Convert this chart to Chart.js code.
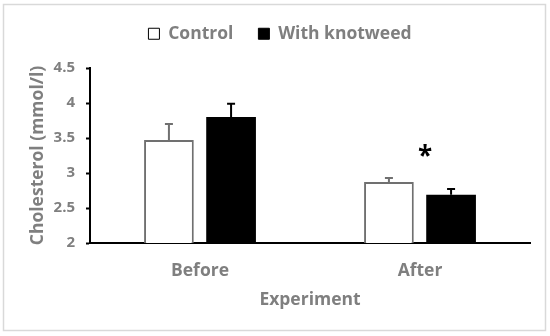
<!DOCTYPE html>
<html>
<head>
<meta charset="utf-8">
<script src="https://cdn.jsdelivr.net/npm/chart.js@4.4.0/dist/chart.umd.min.js"></script>
<style>
  html, body { margin: 0; padding: 0; background: #fff; }
  #wrap { width: 550px; height: 336px; position: relative; }
</style>
</head>
<body>
<div id="wrap"><canvas id="chart" width="550" height="336"></canvas></div>
<script>
const categories = ["Before", "After"];
const controlValues = [3.47, 2.87];
const controlErrors = [0.23, 0.06];
const knotweedValues = [3.80, 2.69];
const knotweedErrors = [0.19, 0.08];
const significance = ["", "*"];
const yTicks = [2, 2.5, 3, 3.5, 4, 4.5];

const FONT = "'Open Sans', sans-serif";
const GREY = "#7f7f7f";
const LEGEND_HEIGHT = 68;
const LEGEND_SHIFT = 10;

// fixed legend height so the plot top lands where the original has it,
// and the legend is nudged right like in the original
const legendTweak = {
    id: "legendTweak",
    beforeInit(chart) {
        const fit = chart.legend.fit;
        chart.legend.fit = function () {
            fit.call(this);
            this.height = LEGEND_HEIGHT;
        };
        const draw = chart.legend.draw;
        chart.legend.draw = function () {
            this.ctx.save();
            this.ctx.translate(LEGEND_SHIFT, 0);
            draw.call(this);
            this.ctx.restore();
        };
    }
};

// error bars (upper only) + significance star + outer frame
const extras = {
    id: "extras",
    beforeDraw(chart) {
        const c = chart.ctx;
        c.save();
        c.strokeStyle = "#d9d9d9";
        c.lineWidth = 1.5;
        c.strokeRect(3.5, 4.5, 542, 326);
        c.restore();
    },
    afterDatasetsDraw(chart) {
        const c = chart.ctx;
        const y = chart.scales.y;
        const errs = [controlErrors, knotweedErrors];
        const cols = ["#707070", "#000000"];
        c.save();
        chart.data.datasets.forEach((ds, i) => {
            const meta = chart.getDatasetMeta(i);
            meta.data.forEach((bar, j) => {
                const top = y.getPixelForValue(ds.data[j]);
                const end = y.getPixelForValue(ds.data[j] + errs[i][j]);
                c.strokeStyle = cols[i];
                c.lineWidth = 2;
                c.beginPath();
                c.moveTo(bar.x, top);
                c.lineTo(bar.x, end);
                c.moveTo(bar.x - 4, end);
                c.lineTo(bar.x + 4, end);
                c.stroke();
            });
        });
        const x = chart.scales.x;
        c.fillStyle = "#000";
        c.font = "bold 26px " + FONT;
        c.textAlign = "center";
        c.textBaseline = "middle";
        significance.forEach((s, j) => {
            if (!s) return;
            c.fillText(s, x.getPixelForValue(j) + 5, y.getPixelForValue(3.22));
        });
        c.restore();
    }
};

new Chart(document.getElementById("chart"), {
    type: "bar",
    data: {
        labels: categories,
        datasets: [
            {
                label: "Control",
                data: controlValues,
                backgroundColor: "#ffffff",
                borderColor: "#707070",
                borderWidth: 2,
                borderSkipped: "bottom"
            },
            {
                label: "With knotweed",
                data: knotweedValues,
                backgroundColor: "#000000",
                borderColor: "#000000",
                borderWidth: 0
            }
        ]
    },
    options: {
        responsive: false,
        animation: false,
        devicePixelRatio: 1,
        categoryPercentage: 0.565,
        barPercentage: 0.8,
        layout: { padding: { top: 0, left: 10, right: 20, bottom: 25 } },
        plugins: {
            legend: {
                position: "top",
                labels: {
                    color: GREY,
                    font: { family: FONT, size: 17.5, weight: "bold" },
                    boxWidth: 11,
                    boxHeight: 11,
                    padding: 25,
                    generateLabels(chart) {
                        return chart.data.datasets.map((ds, i) => ({
                            text: ds.label,
                            fillStyle: ds.backgroundColor,
                            strokeStyle: "#000",
                            lineWidth: 1,
                            fontColor: GREY,
                            datasetIndex: i
                        }));
                    }
                }
            },
            tooltip: { enabled: false }
        },
        scales: {
            x: {
                grid: { display: false, drawTicks: false },
                border: { color: "#000", width: 2 },
                ticks: {
                    color: GREY,
                    padding: 18,
                    font: { family: FONT, size: 17.5, weight: "bold" }
                },
                title: {
                    display: true,
                    text: "Experiment",
                    color: GREY,
                    padding: { top: 4, bottom: 0 },
                    font: { family: FONT, size: 17.5, weight: "bold" }
                },
                afterFit(scale) { scale.height = 68; }
            },
            y: {
                min: 2,
                max: 4.5,
                afterBuildTicks(scale) { scale.ticks = yTicks.map(v => ({ value: v })); },
                grid: { display: true, drawOnChartArea: false, drawTicks: true, tickLength: 4, color: "#000", tickWidth: 2 },
                border: { color: "#000", width: 2 },
                ticks: {
                    color: GREY,
                    padding: 11,
                    font: { family: FONT, size: 15, weight: "bold" },
                    callback: v => String(v)
                },
                title: {
                    display: true,
                    text: "Cholesterol (mmol/l)",
                    color: GREY,
                    padding: { top: 18, bottom: 0 },
                    font: { family: FONT, size: 17.5, weight: "bold" }
                },
                afterFit(scale) { scale.width = 80; }
            }
        }
    },
    plugins: [legendTweak, extras]
});
</script>
</body>
</html>
